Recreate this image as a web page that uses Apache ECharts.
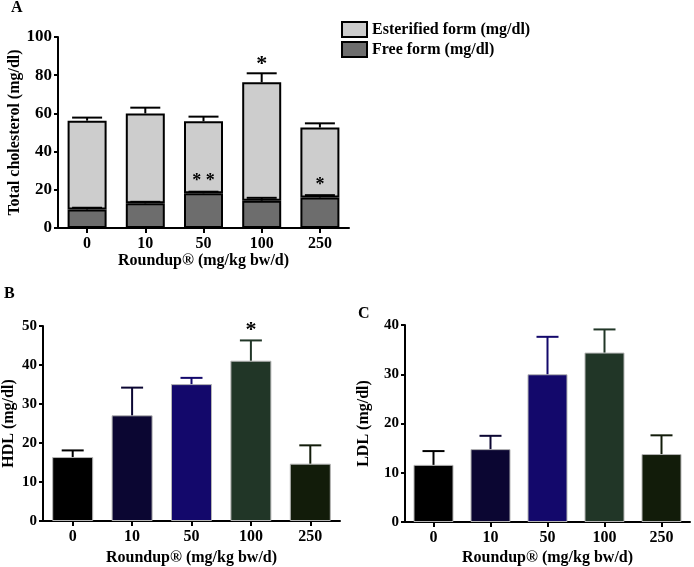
<!DOCTYPE html>
<html>
<head>
<meta charset="utf-8">
<script src="https://cdn.jsdelivr.net/npm/echarts@6/dist/echarts.min.js"></script>
<style>html,body{margin:0;padding:0;background:#fff;}#c{width:694px;height:567px;}</style>
</head>
<body>
<div id="c"></div>
<script>
// ---- Data ----
const categories = ['0', '10', '50', '100', '250'];
// Panel A: total cholesterol split into free + esterified (mg/dl)
const freeMean = [9.7, 12.9, 18.2, 14.3, 16.0];
const freeSem = [0.9, 0.8, 0.8, 1.5, 1.2];
const esterifiedMean = [46.5, 47.1, 37.7, 62.0, 36.6];
const totalSem = [1.6, 3.0, 2.4, 4.7, 2.2];
const starsFree = ['', '', '**', '', '*'];
const starsTotal = ['', '', '', '*', ''];
// Panel B: HDL (mg/dl)
const hdlMean = [16.4, 27.1, 35.1, 41.1, 14.7];
const hdlSem = [1.7, 7.1, 1.6, 5.2, 4.7];
const starsHdl = ['', '', '', '*', ''];
// Panel C: LDL (mg/dl)
const ldlMean = [11.6, 14.8, 30.0, 34.4, 13.8];
const ldlSem = [2.8, 2.7, 7.6, 4.7, 3.8];

const groupColors = ['#000000', '#0b0632', '#13086b', '#213627', '#121c0a'];
const FONT = 'Liberation Serif';

const chart = echarts.init(document.getElementById('c'), null, {renderer: 'canvas'});

function errSeries(xi, yi, means, sems, color, capW, lw, bases) {
  return {
    type: 'custom', xAxisIndex: xi, yAxisIndex: yi, z: 5,
    data: means.map((m, i) => {
      const b = bases ? bases[i] : 0;
      return [i, b + m, b + m + sems[i]];
    }),
    renderItem: function (params, api) {
      const i = api.value(0);
      const p1 = api.coord([i, api.value(1)]);
      const p2 = api.coord([i, api.value(2)]);
      const c = Array.isArray(color) ? color[i] : color;
      return {
        type: 'group',
        children: [
          {type: 'line', shape: {x1: p1[0], y1: p1[1], x2: p2[0], y2: p2[1]}, style: {stroke: c, lineWidth: lw}},
          {type: 'line', shape: {x1: p2[0] - capW / 2, y1: p2[1], x2: p2[0] + capW / 2, y2: p2[1]}, style: {stroke: c, lineWidth: lw}}
        ]
      };
    }
  };
}

function starSeries(xi, yi, tops, stars, size, offset) {
  return {
    type: 'custom', xAxisIndex: xi, yAxisIndex: yi, z: 6,
    data: tops.map((t, i) => [i, t]),
    renderItem: function (params, api) {
      const i = api.value(0);
      const s = stars[i];
      if (!s) return null;
      const p = api.coord([i, api.value(1)]);
      return {
        type: 'text',
        style: {text: s.split('').join(' '), x: p[0], y: p[1] - offset, align: 'center', verticalAlign: 'middle',
          fontFamily: FONT, fontWeight: 'bold', fontSize: size, fill: '#000'}
      };
    }
  };
}

function yAx(gi, max, interval, name, gap, fs) {
  return {
    gridIndex: gi, type: 'value', min: 0, max: max, interval: interval,
    name: name, nameLocation: 'middle', nameGap: gap,
    nameTextStyle: {fontFamily: FONT, fontWeight: 'bold', fontSize: 16, color: '#000'},
    axisLine: {show: true, lineStyle: {color: '#000', width: 2}},
    axisTick: {show: true, length: 4, lineStyle: {color: '#000', width: 2}},
    axisLabel: {fontFamily: FONT, fontWeight: 'bold', fontSize: fs, color: '#000', margin: 6},
    splitLine: {show: false}
  };
}
function xAx(gi, gap) {
  return {
    gridIndex: gi, type: 'category', data: categories,
    name: 'Roundup® (mg/kg bw/d)', nameLocation: 'middle', nameGap: gap,
    nameTextStyle: {fontFamily: FONT, fontWeight: 'bold', fontSize: 16, color: '#000'},
    axisLine: {show: true, lineStyle: {color: '#000', width: 2}},
    axisTick: {show: true, alignWithLabel: true, length: 5, lineStyle: {color: '#000', width: 2}},
    axisLabel: {fontFamily: FONT, fontWeight: 'bold', fontSize: 16, color: '#000', margin: 8}
  };
}

const totalTop = esterifiedMean.map((e, i) => e + freeMean[i] + totalSem[i]);
const freeTop = freeMean.map((f, i) => f + freeSem[i]);
const hdlTop = hdlMean.map((m, i) => m + hdlSem[i]);

const titleStyle = {fontFamily: FONT, fontWeight: 'bold', fontSize: 16, color: '#000'};

chart.setOption({
  animation: false,
  backgroundColor: '#fff',
  title: [
    {text: 'A', left: 11, top: 0, padding: 0, textStyle: titleStyle},
    {text: 'B', left: 4, top: 286, padding: 0, textStyle: titleStyle},
    {text: 'C', left: 358, top: 306, padding: 0, textStyle: titleStyle}
  ],
  legend: {
    left: 341, top: 21, orient: 'vertical', itemWidth: 25, itemHeight: 15, itemGap: 3, padding: 0,
    icon: 'rect',
    data: ['Esterified form (mg/dl)', 'Free form (mg/dl)'],
    textStyle: {fontFamily: FONT, fontWeight: 'bold', fontSize: 16, color: '#000'}
  },
  grid: [
    {left: 58, top: 37, width: 291, height: 191},
    {left: 43, top: 326, width: 297, height: 195},
    {left: 405, top: 325, width: 285, height: 197}
  ],
  xAxis: [xAx(0, 25), xAx(1, 29), xAx(2, 28)],
  yAxis: [
    yAx(0, 100, 20, 'Total cholesterol (mg/dl)', 34, 17),
    yAx(1, 50, 10, 'HDL (mg/dl)', 26, 15),
    yAx(2, 40, 10, 'LDL (mg/dl)', 33, 15)
  ],
  series: [
    {name: 'Free form (mg/dl)', type: 'bar', stack: 'a', xAxisIndex: 0, yAxisIndex: 0, barWidth: 39, data: freeMean,
      itemStyle: {color: '#6d6d6d', borderColor: '#000', borderWidth: 2}},
    {name: 'Esterified form (mg/dl)', type: 'bar', stack: 'a', xAxisIndex: 0, yAxisIndex: 0, barWidth: 39, data: esterifiedMean,
      itemStyle: {color: '#cdcdcd', borderColor: '#000', borderWidth: 2}},
    errSeries(0, 0, freeMean, freeSem, '#000', 30, 2, null),
    errSeries(0, 0, esterifiedMean, totalSem, '#000', 30, 2, freeMean),
    starSeries(0, 0, freeTop, starsFree, 18, 10),
    starSeries(0, 0, totalTop, starsTotal, 22, 9),
    {type: 'bar', xAxisIndex: 1, yAxisIndex: 1, barWidth: 41,
      data: hdlMean.map((v, i) => ({value: v, itemStyle: {color: groupColors[i]}})),
      itemStyle: {borderColor: '#b5b5b5', borderWidth: 1}},
    errSeries(1, 1, hdlMean, hdlSem, groupColors, 22, 2, null),
    starSeries(1, 1, hdlTop, starsHdl, 22, 10),
    {type: 'bar', xAxisIndex: 2, yAxisIndex: 2, barWidth: 40,
      data: ldlMean.map((v, i) => ({value: v, itemStyle: {color: groupColors[i]}})),
      itemStyle: {borderColor: '#b5b5b5', borderWidth: 1}},
    errSeries(2, 2, ldlMean, ldlSem, groupColors, 22, 2, null)
  ]
});
</script>
</body>
</html>
